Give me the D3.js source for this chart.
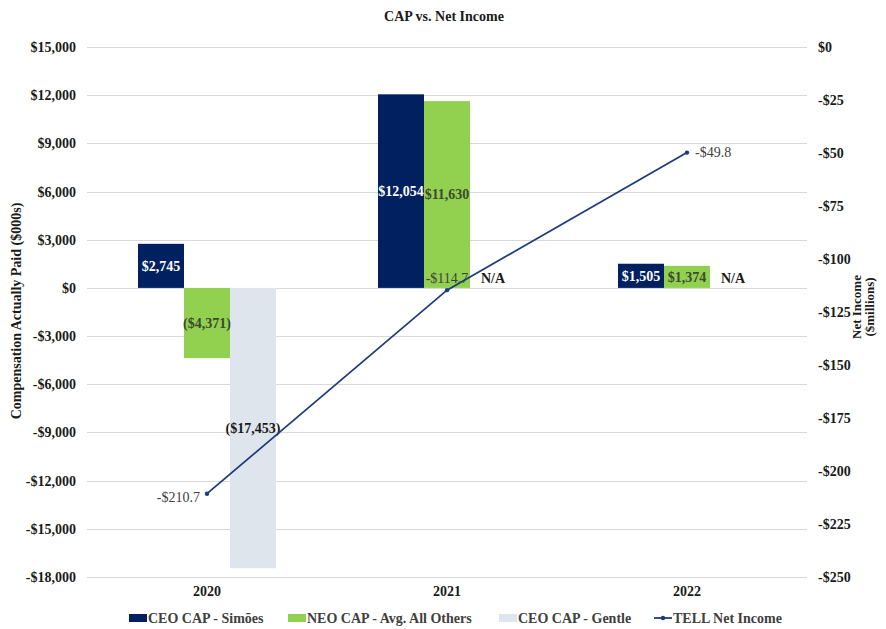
<!DOCTYPE html>
<html><head><meta charset="utf-8">
<script src="https://cdn.jsdelivr.net/npm/d3@7"></script>
<style>
body{margin:0;background:#fff;}
svg{display:block;}
svg text{font-family:"Liberation Serif","Tinos","Times New Roman","DejaVu Serif",serif !important;}
</style></head>
<body>
<svg id="chart" width="886" height="629"></svg>
<script>
const years = ["2020", "2021", "2022"];
const seriesNames = ["CEO CAP - Simões", "NEO CAP - Avg. All Others", "CEO CAP - Gentle"];
const simoes = [2745, 12054, 1505];
const neo = [-4371, 11630, 1374];
const gentle = [-17453, null, null];
const netIncome = [-210.7, -114.7, -49.8];
const leftTicks = [15000, 12000, 9000, 6000, 3000, 0, -3000, -6000, -9000, -12000, -15000, -18000];
const rightTicks = [0, -25, -50, -75, -100, -125, -150, -175, -200, -225, -250];
const lineName = "TELL Net Income";

const colors = ["#002060", "#92D050", "#DFE5ED"];
const labelColors = ["#ffffff", "#3b4a30", "#1a1a1a"];
const lineColor = "#1F3B7C";
const FS = 14;

const svg = d3.select("#chart");
const L = 87, R = 807, T = 47, B = 577;

const x = d3.scaleBand().domain(years).range([L, R]).padding(0);
const xs = d3.scaleBand().domain(seriesNames).range([51, 189]).padding(0);
const y = d3.scaleLinear().domain([-18000, 15000]).range([B, T]);
const y2 = d3.scaleLinear().domain([-250, 0]).range([B, T]);

const fmtK = v => (v < 0 ? "-$" : "$") + d3.format(",")(Math.abs(v));
const fmtBar = v => v < 0 ? "($" + d3.format(",")(Math.abs(v)) + ")" : "$" + d3.format(",")(v);
const fmtR = v => (v < 0 ? "-$" : "$") + Math.abs(v);

// gridlines
svg.append("g").selectAll("line").data(leftTicks).join("line")
  .attr("x1", L).attr("x2", R)
  .attr("y1", d => Math.round(y(d)) + 0.5).attr("y2", d => Math.round(y(d)) + 0.5)
  .attr("stroke", "#d9d9d9").attr("stroke-width", 1);

// left axis
const gl = svg.append("g").attr("transform", `translate(${L},0)`)
  .call(d3.axisLeft(y).tickValues(leftTicks).tickFormat(fmtK).tickSize(0).tickPadding(11));
gl.select(".domain").remove();
gl.selectAll("text").attr("font-size", FS).attr("font-weight", "bold").attr("fill", "#1a1a1a");

// right axis
const gr = svg.append("g").attr("transform", `translate(${R},0)`)
  .call(d3.axisRight(y2).tickValues(rightTicks).tickFormat(fmtR).tickSize(0).tickPadding(11));
gr.select(".domain").remove();
gr.selectAll("text").attr("font-size", FS).attr("font-weight", "bold").attr("fill", "#1a1a1a");

// bottom axis
const gb = svg.append("g").attr("transform", `translate(0,${B})`)
  .call(d3.axisBottom(x).tickSize(0).tickPadding(9));
gb.select(".domain").remove();
gb.selectAll("text").attr("font-size", FS).attr("font-weight", "bold").attr("fill", "#1a1a1a");

// bars
const seriesVals = [simoes, neo, gentle];
const barData = [];
seriesVals.forEach((vals, si) => {
  vals.forEach((v, yi) => barData.push({s: si, year: years[yi], v: v}));
});
const bx = d => x(d.year) + xs(seriesNames[d.s]);
svg.append("g").selectAll("rect").data(barData.filter(d => d.v !== null)).join("rect")
  .attr("x", bx).attr("width", xs.bandwidth())
  .attr("y", d => y(Math.max(0, d.v))).attr("height", d => Math.abs(y(d.v) - y(0)))
  .attr("fill", d => colors[d.s]);

// bar labels
svg.append("g").selectAll("text").data(barData).join("text")
  .attr("x", d => bx(d) + xs.bandwidth() / 2)
  .attr("y", d => d.v === null ? y(0) - 10 : (y(d.v) + y(0)) / 2)
  .attr("dy", "0.35em").attr("text-anchor", "middle")
  .attr("font-size", FS).attr("font-weight", "bold")
  .attr("fill", d => d.v === null ? "#1a1a1a" : labelColors[d.s])
  .text(d => d.v === null ? "N/A" : fmtBar(d.v));

// line
const lx = (d, i) => x(years[i]) + x.bandwidth() / 2;
svg.append("path").datum(netIncome)
  .attr("d", d3.line().x(lx).y(d => y2(d)))
  .attr("fill", "none").attr("stroke", lineColor).attr("stroke-width", 1.8);
svg.append("g").selectAll("circle").data(netIncome).join("circle")
  .attr("cx", lx).attr("cy", d => y2(d)).attr("r", 2.2).attr("fill", lineColor);

// line labels
const lpos = [{dx: -7, dy: 3, a: "end"}, {dx: 0, dy: -12, a: "middle"}, {dx: 8, dy: 0, a: "start"}];
svg.append("g").selectAll("text").data(netIncome).join("text")
  .attr("x", (d, i) => lx(d, i) + lpos[i].dx)
  .attr("y", (d, i) => y2(d) + lpos[i].dy)
  .attr("dy", "0.35em").attr("text-anchor", (d, i) => lpos[i].a)
  .attr("font-size", FS).attr("fill", "#404040")
  .text(d => "-$" + Math.abs(d).toFixed(1));

// title
svg.append("text").attr("x", 444).attr("y", 21).attr("text-anchor", "middle")
  .attr("font-size", 14).attr("font-weight", "bold").attr("fill", "#1a1a1a")
  .text("CAP vs. Net Income");

// left axis title
svg.append("text").attr("transform", "translate(21,311) rotate(-90)")
  .attr("text-anchor", "middle").attr("font-size", FS).attr("font-weight", "bold")
  .attr("fill", "#1a1a1a").text("Compensation Actually Paid ($000s)");

// right axis title
const rt = svg.append("text").attr("transform", "translate(861,307) rotate(-90)")
  .attr("text-anchor", "middle").attr("font-size", 13).attr("font-weight", "bold")
  .attr("fill", "#1a1a1a");
rt.append("tspan").attr("x", 0).attr("dy", 0).text("Net Income");
rt.append("tspan").attr("x", 0).attr("dy", 13).text("($millions)");

// legend
const legendItems = [
  {name: seriesNames[0], type: "rect", c: colors[0], x: 129},
  {name: seriesNames[1], type: "rect", c: colors[1], x: 288},
  {name: seriesNames[2], type: "rect", c: colors[2], x: 499},
  {name: lineName, type: "line", c: lineColor, x: 654}
];
const lg = svg.append("g");
legendItems.forEach(it => {
  const g = lg.append("g").attr("transform", `translate(${it.x},618)`);
  if (it.type === "rect") {
    g.append("rect").attr("x", 0).attr("y", -4).attr("width", 18).attr("height", 8).attr("fill", it.c);
  } else {
    g.append("line").attr("x1", 0).attr("x2", 18).attr("y1", 0).attr("y2", 0)
      .attr("stroke", it.c).attr("stroke-width", 1.8);
    g.append("circle").attr("cx", 9).attr("cy", 0).attr("r", 2.2).attr("fill", it.c);
  }
  g.append("text").attr("x", 19).attr("y", 0).attr("dy", "0.35em")
    .attr("font-size", FS).attr("font-weight", "bold").attr("fill", "#404040").text(it.name);
});
</script>
</body></html>
